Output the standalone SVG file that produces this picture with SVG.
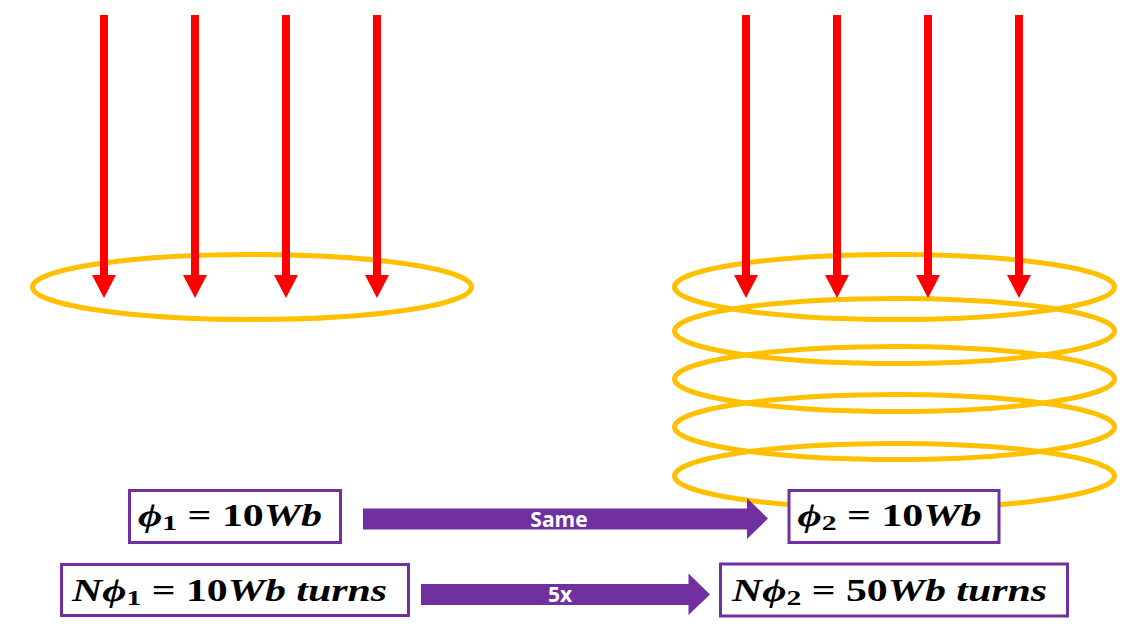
<svg xmlns="http://www.w3.org/2000/svg" width="1127" height="633" viewBox="0 0 1127 633">
<style>
.coil{fill:none;stroke:#FFC000;stroke-width:5}
.flux{fill:#FF0000}
.box{fill:#FFFFFF;stroke:#7030A0;stroke-width:3}
.eq{font-family:"Liberation Serif","DejaVu Serif",serif;font-weight:bold;font-size:31px;fill:#000}
.it{font-style:italic}
.sub{font-size:22px}
.arr{fill:#7030A0}
.lbl{font-family:"Open Sans","Liberation Sans",sans-serif;font-weight:bold;font-size:21px;fill:#FFFFFF;text-anchor:middle}
</style>
<defs>
<path id="fa" d="M-4,0 H4 V260 H12 L0,283 L-12,260 H-4 Z"/>
</defs>
<g id="coil-single">
<ellipse class="coil" cx="252" cy="287" rx="219.5" ry="32.5"/>
</g>
<g id="coil-multi">
<ellipse class="coil" cx="894.5" cy="476" rx="220" ry="32.5"/>
<ellipse class="coil" cx="894.5" cy="427" rx="220" ry="32.5"/>
<ellipse class="coil" cx="894.5" cy="379" rx="220" ry="32.5"/>
<ellipse class="coil" cx="894.5" cy="331" rx="220" ry="32.5"/>
<ellipse class="coil" cx="894.5" cy="287" rx="220" ry="32.5"/>
</g>
<g id="flux-left">
<use href="#fa" class="flux" x="104" y="15"/>
<use href="#fa" class="flux" x="195" y="15"/>
<use href="#fa" class="flux" x="286" y="15"/>
<use href="#fa" class="flux" x="377" y="15"/>
</g>
<g id="flux-right">
<use href="#fa" class="flux" x="746" y="15"/>
<use href="#fa" class="flux" x="837" y="15"/>
<use href="#fa" class="flux" x="928" y="15"/>
<use href="#fa" class="flux" x="1019" y="15"/>
</g>
<g id="connectors">
<path class="arr" d="M363,508.5 H747 V498 L768,518.5 L747,539 V529.5 H363 Z"/>
<text class="lbl" x="559" y="526.5">Same</text>
<path class="arr" d="M421,584 H688.5 V573.5 L710,594.5 L688.5,615 V605 H421 Z"/>
<text class="lbl" x="560" y="602">5x</text>
</g>
<g id="phi1">
<rect class="box" x="129.5" y="490.5" width="211" height="52"/>
<text class="eq" x="138" y="526" textLength="184" lengthAdjust="spacingAndGlyphs"><tspan class="it">ϕ</tspan><tspan class="sub" dy="4">1</tspan><tspan dy="-4"> = 10</tspan><tspan class="it">Wb</tspan></text>
</g>
<g id="phi2">
<rect class="box" x="789" y="490.5" width="210" height="52"/>
<text class="eq" x="797.5" y="525.5" textLength="184" lengthAdjust="spacingAndGlyphs"><tspan class="it">ϕ</tspan><tspan class="sub" dy="4">2</tspan><tspan dy="-4"> = 10</tspan><tspan class="it">Wb</tspan></text>
</g>
<g id="nphi1">
<rect class="box" x="61.5" y="564.5" width="347" height="51"/>
<text class="eq" x="72" y="601" textLength="315" lengthAdjust="spacingAndGlyphs"><tspan class="it">Nϕ</tspan><tspan class="sub" dy="4">1</tspan><tspan dy="-4"> = 10</tspan><tspan class="it">Wb turns</tspan></text>
</g>
<g id="nphi2">
<rect class="box" x="720.5" y="564" width="347" height="52"/>
<text class="eq" x="732" y="600.5" textLength="315" lengthAdjust="spacingAndGlyphs"><tspan class="it">Nϕ</tspan><tspan class="sub" dy="4">2</tspan><tspan dy="-4"> = 50</tspan><tspan class="it">Wb turns</tspan></text>
</g>
</svg>
